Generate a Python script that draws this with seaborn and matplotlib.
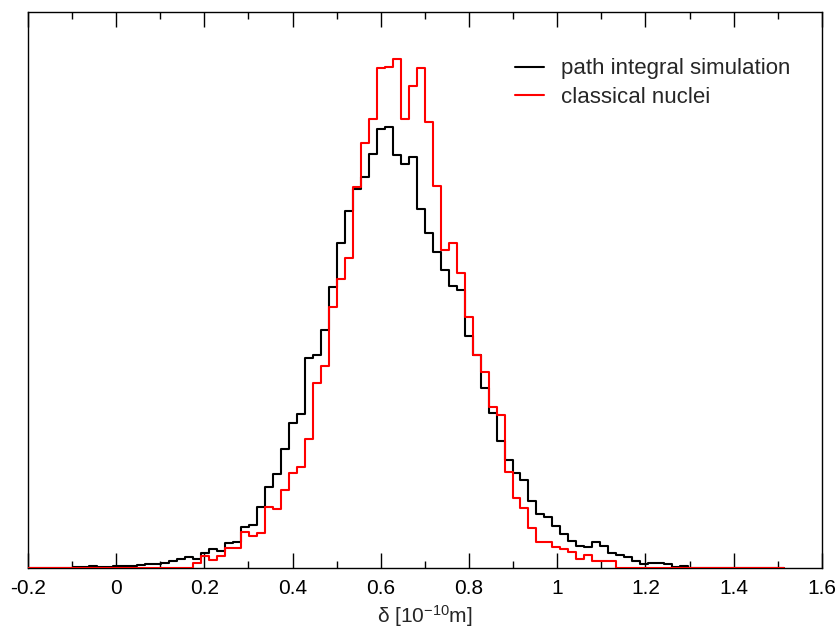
import numpy as np
import pandas as pd
import seaborn as sns
import matplotlib.pyplot as plt
from matplotlib.ticker import MultipleLocator

# %%
# histogram bins (100 bins, same for both runs)
bin_lo = -0.2973
bin_width = 0.01812
n_bins = 100

# counts per bin (arbitrary units)
path_integral = [
    0, 0, 0, 0, 0, 0, 0, 0, 0, 0, 0,
    0.5, 1.0, 1.5, 0.5, 0.5, 1.5, 1.5, 1.5, 2.5, 3.5,
    3.5, 4.8, 6.5, 8.2, 10.5, 9.0, 14.2, 18.5, 16.8, 24.5,
    25.5, 40.8, 42.8, 60.2, 80.8, 93.2, 118.2, 144.5, 153.5, 209.2,
    212.5, 237.8, 280.8, 324.2, 356.8, 378.2, 390.8, 414.0, 438.3, 440.8,
    412.5, 403.2, 410.2, 358.3, 334.5, 315.2, 297.5, 281.7, 277.8, 231.8,
    212.5, 179.2, 154.2, 126.8, 107.5, 94.2, 87.5, 66.8, 54.0, 50.8,
    41.5, 34.0, 26.8, 21.5, 20.8, 25.5, 22.0, 14.5, 12.8, 10.3,
    7.0, 3.5, 4.2, 4.2, 4.0, 0.8, 1.8,
    0, 0, 0, 0, 0, 0, 0, 0, 0, 0, 0, 0,
]
classical = [
    0, 0, 0, 0, 0, 0, 0, 0, 0, 0, 0, 0, 0,
    0, 0, 0, 0, 0, 0, 0, 0, 0, 0, 0, 0, 0,
    5.0, 11.8, 7.5, 11.3, 19.5, 19.5, 35.8, 31.2, 35.0, 60.3,
    59.0, 77.5, 95.0, 100.8, 128.2, 184.2, 201.5, 260.5, 288.5, 309.5,
    381.0, 424.5, 448.5, 499.2, 500.8, 508.2, 448.5, 481.5, 499.2, 445.8,
    381.5, 317.8, 324.8, 294.2, 250.8, 212.5, 195.8, 160.8, 152.5, 95.8,
    69.5, 59.2, 39.2, 25.8, 25.8, 20.8, 18.7, 15.8, 8.3, 12.6,
    6.2, 6.2, 6.2,
    0, 0, 0, 0, 0, 0, 0, 0, 0, 0, 0, 0, 0, 0, 0, 0, 0, 0, 0, 0, 0,
]
labels = ['path integral simulation', 'classical nuclei']
colors = ['black', 'red']

x_ticks = [-0.2, 0, 0.2, 0.4, 0.6, 0.8, 1, 1.2, 1.4, 1.6]
x_ticklabels = ['-0.2', '0', '0.2', '0.4', '0.6', '0.8', '1', '1.2', '1.4', '1.6']

# %%
bin_edges = bin_lo + bin_width * np.arange(n_bins + 1)
centers = bin_edges[:-1] + bin_width / 2

df = pd.concat([
    pd.DataFrame({'delta': centers, 'count': path_integral, 'run': labels[0]}),
    pd.DataFrame({'delta': centers, 'count': classical, 'run': labels[1]}),
])

# %%
sns.set_theme(style='white')
plt.rcParams['font.family'] = ['Liberation Sans', 'DejaVu Sans']
plt.rcParams['mathtext.default'] = 'regular'

fig = plt.figure(figsize=(8.39, 6.30), dpi=100)
ax = fig.add_axes([0.0331, 0.0992, 0.9466, 0.8822])

for lab, col in zip(labels, colors):
    sns.histplot(data=df[df['run'] == lab], x='delta', weights='count',
                 bins=bin_edges.tolist(), element='step', fill=False,
                 color=col, linewidth=1.5, label=lab, zorder=3, ax=ax)

ax.set_xlim(-0.2, 1.6)
ax.set_ylim(0, 555.8)
ax.set_xticks(x_ticks)
ax.set_xticklabels(x_ticklabels)
ax.xaxis.set_minor_locator(MultipleLocator(0.1))
ax.set_yticks([])
ax.set_ylabel('')
ax.set_xlabel(r'δ [10$^{-10}$m]', fontsize=15, labelpad=4)

ax.tick_params(axis='x', which='both', direction='in', top=True, bottom=True,
               labelsize=15, colors='black', pad=8)
ax.tick_params(axis='x', which='major', length=11, width=1)
ax.tick_params(axis='x', which='minor', length=5.3, width=1)
for side in ax.spines.values():
    side.set_color('black')
    side.set_linewidth(1.0)

ax.legend(loc='upper left', bbox_to_anchor=(0.600, 0.936), frameon=False,
          fontsize=16, handlelength=1.3, handletextpad=0.75, borderpad=0,
          labelspacing=0.32)

fig.savefig('out.png', dpi=100)
